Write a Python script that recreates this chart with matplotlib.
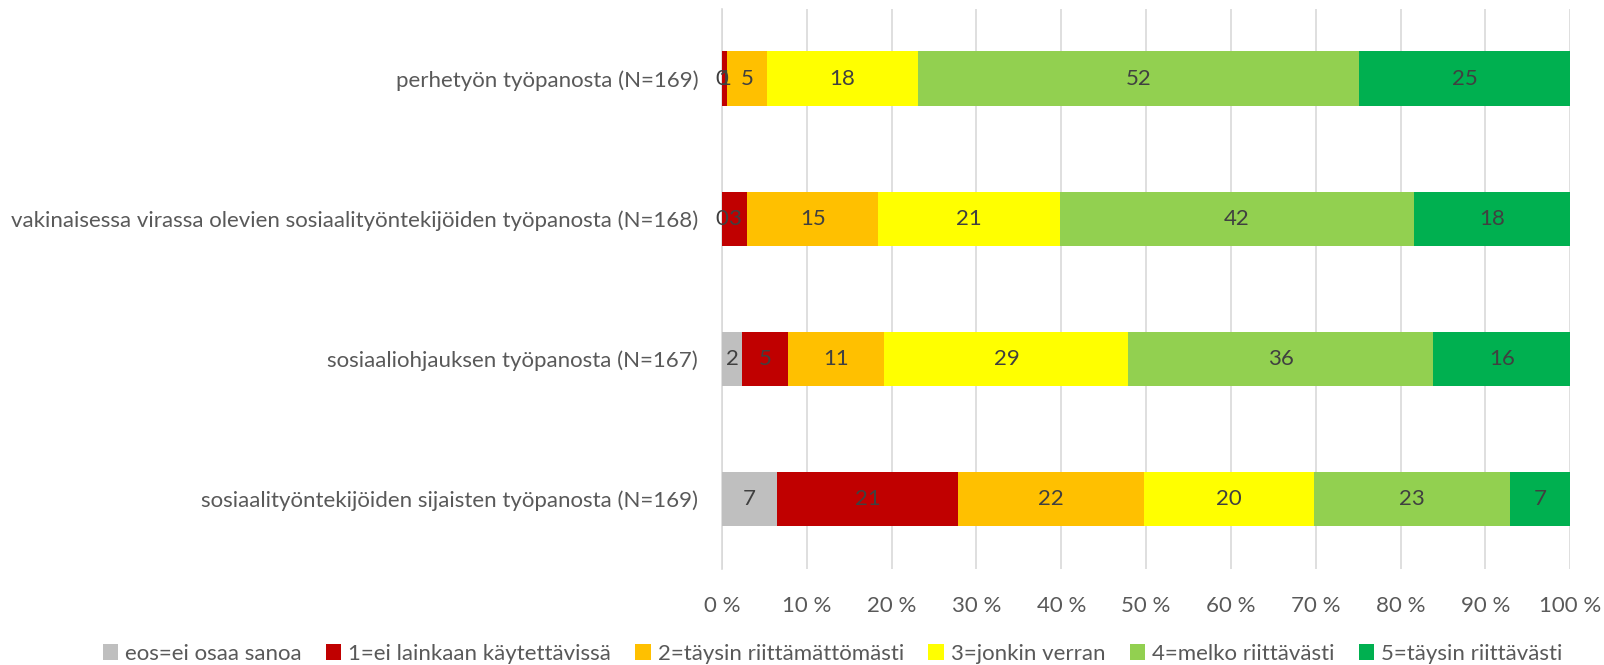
import numpy as np
import matplotlib.pyplot as plt

plt.rcParams['font.family'] = ['Lato', 'DejaVu Sans']

categories = [
    "perhetyön työpanosta (N=169)",
    "vakinaisessa virassa olevien sosiaalityöntekijöiden työpanosta (N=168)",
    "sosiaaliohjauksen työpanosta (N=167)",
    "sosiaalityöntekijöiden sijaisten työpanosta (N=169)",
]
series_names = [
    "eos=ei osaa sanoa",
    "1=ei lainkaan käytettävissä",
    "2=täysin riittämättömästi",
    "3=jonkin verran",
    "4=melko riittävästi",
    "5=täysin riittävästi",
]
colors = ["#BFBFBF", "#C00000", "#FFC000", "#FFFF00", "#92D050", "#00B050"]

# percentages per category, in series order
eos    = [0.0, 0.0, 2.4, 6.51]
one    = [0.59, 2.98, 5.39, 21.3]
two    = [4.73, 15.48, 11.38, 21.89]
three  = [17.75, 21.43, 28.74, 20.12]
four   = [52.07, 41.67, 35.93, 23.08]
five   = [24.85, 18.45, 16.17, 7.1]
series = [eos, one, two, three, four, five]

fig = plt.figure(figsize=(16.04, 6.65), dpi=100)
ax = fig.add_axes([0.450, 0.144, 0.529, 0.843])

y = np.arange(len(categories))[::-1]
left = np.zeros(len(categories))
for name, vals, col in zip(series_names, series, colors):
    vals = np.array(vals)
    ax.barh(y, vals, left=left, height=0.39, color=col, label=name, zorder=3)
    for yi, l, v in zip(y, left, vals):
        ax.text(l + v / 2, yi, f"{v:.0f}", ha="center", va="center",
                fontsize=16, color="#404040", zorder=4)
    left += vals

ax.set_xlim(0, 100)
ax.set_ylim(-0.5, len(categories) - 0.5)
ax.set_xticks(np.arange(0, 101, 10))
ax.set_xticklabels([f"{t} %" for t in range(0, 101, 10)])
ax.set_yticks(y)
ax.set_yticklabels(categories)
ax.tick_params(axis="both", length=0, labelsize=16, labelcolor="#595959")
ax.tick_params(axis="x", pad=19)
ax.tick_params(axis="y", pad=17)
ax.grid(axis="x", color="#D9D9D9", linewidth=1.2, zorder=0)
for s in ["top", "right", "bottom"]:
    ax.spines[s].set_visible(False)
ax.spines["left"].set_color("#D9D9D9")
ax.spines["left"].set_linewidth(1.2)

handles, labels = ax.get_legend_handles_labels()
fig.legend(handles, labels, loc="center", bbox_to_anchor=(0.519, 0.017), ncol=6,
           frameon=False, fontsize=16, labelcolor="#595959",
           handlelength=0.7, handleheight=0.7, handletextpad=0.3, columnspacing=1.1)

fig.savefig("out.png", dpi=100)
